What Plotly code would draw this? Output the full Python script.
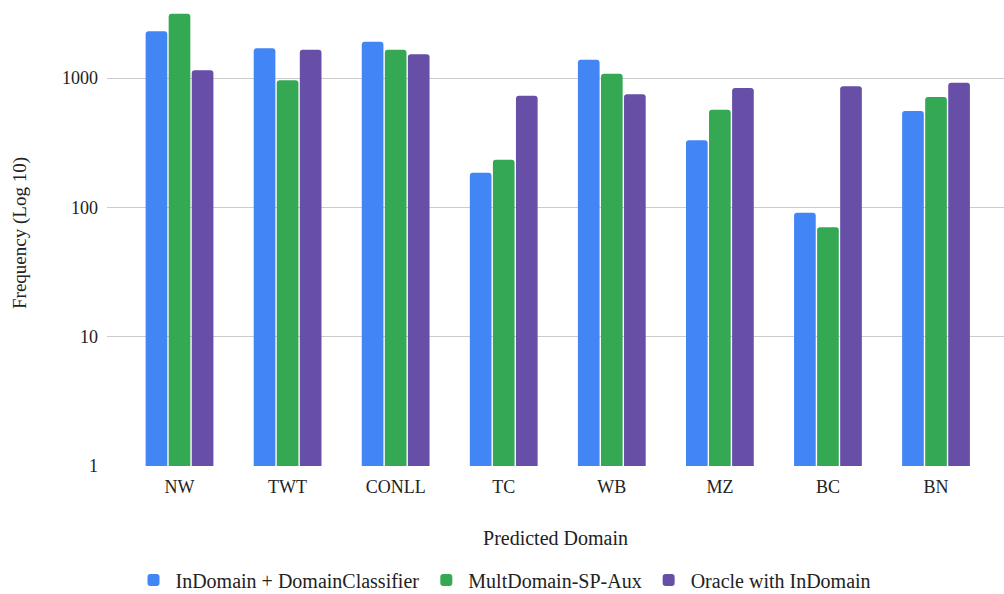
import math
import plotly.graph_objects as go

# Frequency of each predicted domain, per system
domains = ["NW", "TWT", "CONLL", "TC", "WB", "MZ", "BC", "BN"]
indomain_classifier = [2300, 1700, 1910, 185, 1385, 330, 91, 556]
multdomain_sp_aux = [3140, 960, 1656, 233, 1080, 569, 70, 713]
oracle_indomain = [1147, 1656, 1524, 730, 748, 837, 863, 920]

series = [
    ("InDomain + DomainClassifier", indomain_classifier, "#4285F4"),
    ("MultDomain-SP-Aux", multdomain_sp_aux, "#34A853"),
    ("Oracle with InDomain", oracle_indomain, "#674EA7"),
]

font_family = "Liberation Serif, Times New Roman, serif"

fig = go.Figure()
for name, vals, color in series:
    fig.add_trace(go.Bar(
        name=name,
        x=domains,
        y=vals,
        marker=dict(color=color, cornerradius=3, line=dict(width=0)),
    ))

fig.update_layout(
    width=1004,
    height=594,
    barmode="group",
    bargap=0.36,
    bargroupgap=0.06,
    plot_bgcolor="white",
    paper_bgcolor="white",
    font=dict(family=font_family, size=18, color="#222222"),
    margin=dict(l=107, r=0, t=0, b=128),
    showlegend=True,
    legend=dict(
        orientation="h",
        xref="container",
        yref="container",
        x=0.502,
        xanchor="center",
        y=1 - 580 / 594,
        yanchor="middle",
        font=dict(size=20),
        itemwidth=34,
    ),
)

fig.update_xaxes(
    range=[-0.671, 7.629],
    showgrid=False,
    showline=False,
    ticks="",
    ticklabelstandoff=8,
    tickfont=dict(size=18),
    title=dict(text="Predicted Domain", font=dict(size=20), standoff=34),
)

fig.update_yaxes(
    type="log",
    range=[0, 466 / 129.33],
    tickvals=[1, 10, 100, 1000],
    ticktext=["1", "10", "100", "1000"],
    showgrid=True,
    gridcolor="#cccccc",
    gridwidth=1,
    zeroline=False,
    showline=False,
    ticks="",
    ticklabelstandoff=8,
    tickfont=dict(size=18),
    title=dict(text="Frequency (Log 10)", font=dict(size=19), standoff=30),
)

fig.write_html("out.html")
